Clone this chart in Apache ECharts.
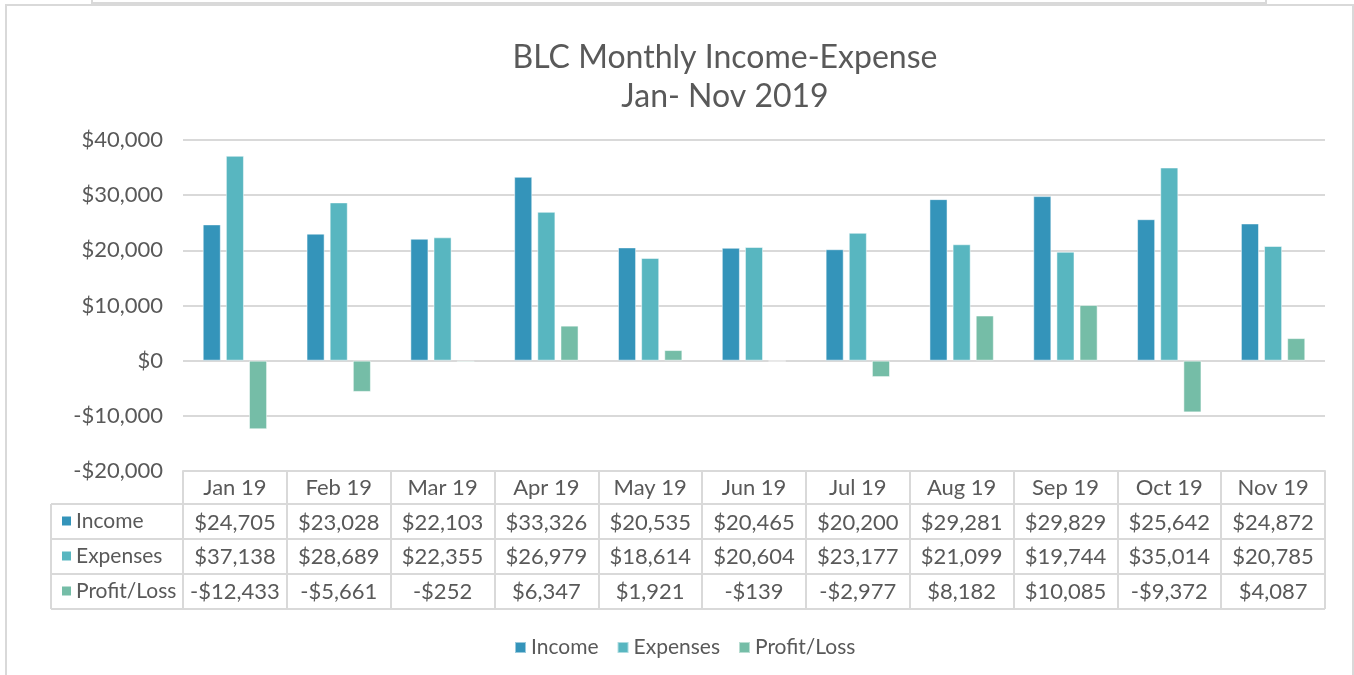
<!DOCTYPE html>
<html>
<head>
<meta charset="utf-8">
<script src="https://cdn.jsdelivr.net/npm/echarts@6/dist/echarts.min.js"></script>
<style>html,body{margin:0;padding:0;background:#fff}#c{width:1354px;height:675px}</style>
</head>
<body>
<div id="c"></div>
<script>
const categories = ['Jan 19','Feb 19','Mar 19','Apr 19','May 19','Jun 19','Jul 19','Aug 19','Sep 19','Oct 19','Nov 19'];
const income   = [24705, 23028, 22103, 33326, 20535, 20465, 20200, 29281, 29829, 25642, 24872];
const expenses = [37138, 28689, 22355, 26979, 18614, 20604, 23177, 21099, 19744, 35014, 20785];
const profit   = [-12433, -5661, -252, 6347, 1921, -139, -2977, 8182, 10085, -9372, 4087];
const seriesNames = ['Income', 'Expenses', 'Profit/Loss'];
const seriesData = [income, expenses, profit];
const colors = ['#3494BA', '#58B6C0', '#75BDA7'];
const yMin = -20000, yMax = 40000, yStep = 10000;

const FONT = 'Lato, "DejaVu Sans", sans-serif';
const TXT = '#595959';
const LINE = '#d9d9d9';
const fmt = v => (v < 0 ? '-' : '') + '$' + Math.abs(v).toLocaleString('en-US');

// layout
const W = 1354, H = 675;
const gLeft = 183, gRight = 1325, gTop = 140, gBottom = 471;
const rowH = 35, headH = 33;
const tableLeft = 51;
const rowTops = [gBottom + headH, gBottom + headH + rowH, gBottom + headH + 2 * rowH, gBottom + headH + 3 * rowH];

const chart = echarts.init(document.getElementById('c'), null, {renderer: 'canvas'});

const graphic = [
  {type: 'rect', silent: true, z: -10, shape: {x: 6, y: 5, width: 1347, height: 700}, style: {fill: 'none', stroke: LINE, lineWidth: 2}},
  {type: 'rect', silent: true, z: -10, shape: {x: 92, y: -10, width: 1174, height: 13}, style: {fill: 'none', stroke: LINE, lineWidth: 2}}
];
rowTops.forEach(y => {
  graphic.push({type: 'line', silent: true, shape: {x1: tableLeft, y1: y, x2: gRight, y2: y}, style: {stroke: LINE, lineWidth: 2}});
});
graphic.push({type: 'line', silent: true, shape: {x1: tableLeft, y1: rowTops[0], x2: tableLeft, y2: rowTops[3]}, style: {stroke: LINE, lineWidth: 2}});
seriesNames.forEach((n, i) => {
  const cy = rowTops[i] + rowH / 2;
  graphic.push({type: 'rect', silent: true, shape: {x: 62, y: cy - 5, width: 9, height: 9}, style: {fill: colors[i]}});
  graphic.push({type: 'text', silent: true, x: 76, y: cy, style: {text: n, font: '21px ' + FONT, fill: TXT, verticalAlign: 'middle'}});
});

chart.setOption({
  animation: false,
  color: colors,
  textStyle: {fontFamily: FONT},
  title: {
    text: 'BLC Monthly Income-Expense\nJan- Nov 2019',
    left: 725, top: 38, textAlign: 'center', padding: 0,
    textStyle: {fontFamily: FONT, fontSize: 32, fontWeight: 'normal', color: TXT, lineHeight: 39}
  },
  legend: {
    data: seriesNames, left: 509, top: 632, icon: 'rect', itemWidth: 11, itemHeight: 11, itemGap: 18,
    textStyle: {fontFamily: FONT, fontSize: 21, color: TXT}
  },
  grid: {left: gLeft, right: W - gRight, top: gTop, bottom: H - gBottom, containLabel: false},
  xAxis: {
    type: 'category', data: categories, position: 'bottom',
    axisLine: {show: true, onZero: false, lineStyle: {color: LINE, width: 2}},
    axisTick: {show: true, interval: 0, length: headH + 3 * rowH, lineStyle: {color: LINE, width: 2}},
    axisLabel: {
      interval: 0, margin: 0, fontFamily: FONT, fontSize: 22, color: TXT, lineHeight: 34.5, align: 'center',
      formatter: (v, i) => [v, fmt(income[i]), fmt(expenses[i]), fmt(profit[i])].join('\n')
    },
    splitLine: {show: false}
  },
  yAxis: {
    type: 'value', min: yMin, max: yMax, interval: yStep,
    axisLine: {show: false}, axisTick: {show: false},
    axisLabel: {margin: 20, fontFamily: FONT, fontSize: 22, color: TXT, formatter: v => fmt(v)},
    splitLine: {lineStyle: {color: LINE, width: 2}}
  },
  series: seriesNames.map((n, i) => ({
    name: n, type: 'bar', data: seriesData[i],
    barGap: '28%', barCategoryGap: '38%',
    itemStyle: {color: colors[i], borderColor: 'rgba(255,255,255,0.5)', borderWidth: 1}
  })),
  graphic: graphic
});
</script>
</body>
</html>
